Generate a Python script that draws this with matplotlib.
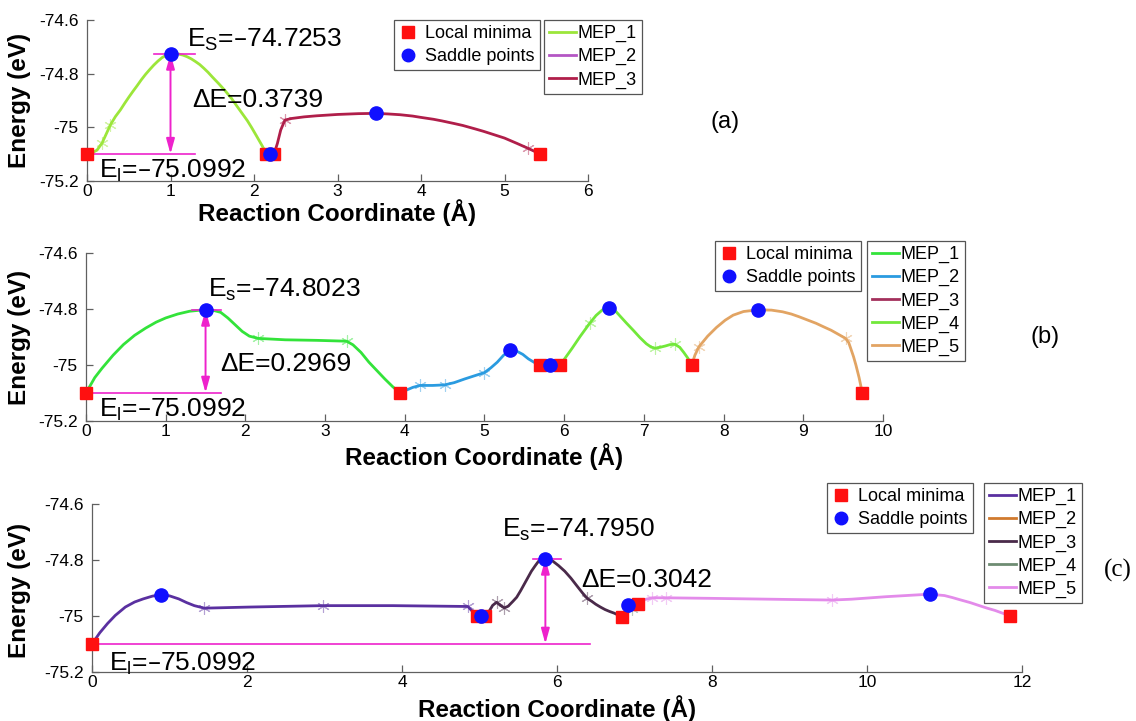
import matplotlib
matplotlib.use("Agg")
import matplotlib.pyplot as plt
from matplotlib.lines import Line2D

plt.rcParams['font.family'] = ['Liberation Sans', 'DejaVu Sans']
plt.rcParams['mathtext.default'] = 'regular'

# ---------------- panel (a) ----------------
a1_x = [0.00, 0.06, 0.12, 0.18, 0.23, 0.28, 0.34, 0.40, 0.45, 0.50, 0.55, 0.60, 0.65,
        0.70, 0.75, 0.80, 0.85, 0.90, 0.95, 1.00, 1.05, 1.10, 1.15, 1.20, 1.25, 1.30,
        1.35, 1.40, 1.45, 1.50, 1.58, 1.65, 1.73, 1.80, 1.86, 1.92, 1.97, 2.03, 2.10, 2.15]
a1_e = [-75.0992, -75.095, -75.085, -75.059, -75.025, -74.991, -74.960, -74.935, -74.911,
        -74.888, -74.866, -74.845, -74.823, -74.803, -74.785, -74.768, -74.753, -74.740,
        -74.731, -74.7253, -74.725, -74.727, -74.731, -74.737, -74.745, -74.755, -74.766,
        -74.780, -74.795, -74.812, -74.838, -74.862, -74.892, -74.923, -74.949, -74.975,
        -75.000, -75.032, -75.070, -75.0992]
a2_x = [2.15, 2.19, 2.24]
a2_e = [-75.0992, -75.0992, -75.0992]
a3_x = [2.24, 2.28, 2.32, 2.37, 2.45, 2.60, 2.75, 3.00, 3.25, 3.46, 3.60, 3.75, 3.90,
        4.00, 4.15, 4.25, 4.40, 4.50, 4.65, 4.75, 4.90, 5.00, 5.15, 5.28, 5.35, 5.42]
a3_e = [-75.0992, -75.060, -75.010, -74.973, -74.967, -74.961, -74.957, -74.952, -74.949,
        -74.948, -74.950, -74.953, -74.958, -74.963, -74.970, -74.976, -74.986, -74.993,
        -75.006, -75.015, -75.030, -75.040, -75.060, -75.078, -75.088, -75.0992]
a_img_x = [[0.18, 0.28], [], [2.37, 5.28]]
a_img_e = [[-75.059, -74.991], [], [-74.973, -75.078]]
a_min_x = [0.0, 2.14, 2.24, 5.42]
a_min_e = [-75.0992, -75.0992, -75.0992, -75.0992]
a_sad_x = [1.0, 2.19, 3.46]
a_sad_e = [-74.7253, -75.0992, -74.948]
a_colors = ['#9CE63A', '#B456C4', '#B01E4A']
a_names = ['MEP_1', 'MEP_2', 'MEP_3']

# ---------------- panel (b) ----------------
b1_x = [0.00, 0.05, 0.11, 0.20, 0.34, 0.47, 0.61, 0.75, 0.88, 1.00, 1.15, 1.30, 1.50,
        1.60, 1.69, 1.78, 1.87, 1.96, 2.05, 2.16, 2.50, 2.90, 3.27, 3.35, 3.45, 3.55,
        3.65, 3.75, 3.85, 3.94]
b1_e = [-75.0992, -75.075, -75.045, -75.012, -74.965, -74.927, -74.894, -74.868, -74.847,
        -74.832, -74.818, -74.808, -74.8023, -74.805, -74.812, -74.832, -74.856, -74.880,
        -74.897, -74.905, -74.910, -74.912, -74.915, -74.928, -74.955, -74.990, -75.020,
        -75.050, -75.078, -75.0992]
b2_x = [3.94, 4.00, 4.10, 4.19, 4.35, 4.50, 4.62, 4.75, 4.88, 5.00, 5.08, 5.16, 5.24,
        5.32, 5.40, 5.48, 5.55, 5.62, 5.70]
b2_e = [-75.0992, -75.092, -75.080, -75.073, -75.073, -75.071, -75.063, -75.050, -75.038,
        -75.027, -75.010, -74.990, -74.965, -74.948, -74.950, -74.962, -74.978, -74.990,
        -75.0]
b3_x = [5.70, 5.82, 5.95]
b3_e = [-75.0, -75.0, -75.0]
b4_x = [5.95, 6.03, 6.10, 6.20, 6.32, 6.40, 6.48, 6.56, 6.63, 6.70, 6.78, 6.87, 6.95,
        7.03, 7.09, 7.14, 7.20, 7.27, 7.33, 7.39, 7.45, 7.50, 7.55, 7.60]
b4_e = [-75.0, -74.968, -74.940, -74.898, -74.851, -74.823, -74.803, -74.795, -74.803,
        -74.825, -74.850, -74.877, -74.902, -74.924, -74.936, -74.940, -74.937, -74.932,
        -74.927, -74.926, -74.937, -74.955, -74.975, -75.0]
b5_x = [7.60, 7.64, 7.69, 7.80, 7.91, 8.02, 8.12, 8.25, 8.43, 8.60, 8.74, 8.85, 8.95,
        9.05, 9.16, 9.25, 9.35, 9.45, 9.53, 9.57, 9.60, 9.63, 9.66, 9.70, 9.74]
b5_e = [-75.0, -74.965, -74.935, -74.897, -74.866, -74.840, -74.822, -74.809, -74.803,
        -74.804, -74.810, -74.818, -74.828, -74.839, -74.851, -74.863, -74.876, -74.892,
        -74.905, -74.920, -74.945, -74.970, -75.000, -75.045, -75.0992]
b_img_x = [[2.16, 3.27], [4.19, 4.50, 5.00], [], [6.32, 7.14, 7.39], [7.69, 9.53]]
b_img_e = [[-74.905, -74.915], [-75.073, -75.071, -75.027], [], [-74.851, -74.940, -74.926],
           [-74.935, -74.905]]
b_min_x = [0.0, 3.94, 5.70, 5.95, 7.60, 9.74]
b_min_e = [-75.0992, -75.0992, -75.0, -75.0, -75.0, -75.0992]
b_sad_x = [1.50, 5.32, 5.82, 6.56, 8.43]
b_sad_e = [-74.8023, -74.948, -75.0, -74.795, -74.803]
b_colors = ['#33E33A', '#2A9BE0', '#A3305C', '#72E83A', '#E2A463']
b_names = ['MEP_1', 'MEP_2', 'MEP_3', 'MEP_4', 'MEP_5']

# ---------------- panel (c) ----------------
c1_x = [0.00, 0.05, 0.10, 0.20, 0.30, 0.43, 0.55, 0.66, 0.78, 0.89, 1.00, 1.12, 1.22,
        1.32, 1.45, 2.04, 2.98, 3.88, 4.85, 4.93, 4.98]
c1_e = [-75.0992, -75.080, -75.060, -75.027, -74.998, -74.968, -74.950, -74.939, -74.929,
        -74.924, -74.928, -74.939, -74.952, -74.963, -74.972, -74.968, -74.963, -74.963,
        -74.966, -74.990, -75.0]
c2_x = [4.98, 5.02, 5.07]
c2_e = [-75.0, -75.0, -75.0]
c3_x = [5.07, 5.12, 5.17, 5.22, 5.27, 5.32, 5.37, 5.43, 5.48, 5.53, 5.58, 5.63, 5.67,
        5.72, 5.76, 5.80, 5.84, 5.90, 5.95, 6.02, 6.10, 6.18, 6.27, 6.33, 6.39, 6.45,
        6.50, 6.56, 6.62, 6.68, 6.74, 6.79, 6.84]
c3_e = [-75.0, -74.985, -74.962, -74.951, -74.962, -74.971, -74.965, -74.948, -74.933,
        -74.910, -74.885, -74.860, -74.840, -74.820, -74.805, -74.797, -74.795, -74.798,
        -74.805, -74.820, -74.840, -74.865, -74.897, -74.918, -74.937, -74.948, -74.958,
        -74.968, -74.977, -74.984, -74.990, -74.997, -75.003]
c4_x = [6.84, 6.90, 6.97, 7.04]
c4_e = [-75.003, -74.990, -74.975, -74.958]
c5_x = [7.04, 7.12, 7.23, 7.40, 8.00, 8.50, 9.00, 9.55, 9.80, 10.00, 10.25, 10.50, 10.81,
        11.00, 11.10, 11.20, 11.33, 11.45, 11.55, 11.65, 11.75, 11.85]
c5_e = [-74.958, -74.942, -74.935, -74.935, -74.937, -74.939, -74.941, -74.943, -74.940,
        -74.936, -74.931, -74.927, -74.922, -74.927, -74.934, -74.942, -74.952, -74.963,
        -74.972, -74.980, -74.990, -75.0]
c_img_x = [[1.45, 2.98, 4.85], [], [5.22, 5.32, 6.39], [6.97], [7.23, 7.40, 9.55]]
c_img_e = [[-74.972, -74.963, -74.966], [], [-74.951, -74.971, -74.937], [-74.975],
           [-74.935, -74.935, -74.943]]
c_min_x = [0.0, 4.97, 5.07, 6.84, 7.04, 11.85]
c_min_e = [-75.0992, -75.0, -75.0, -75.003, -74.958, -75.0]
c_sad_x = [0.89, 5.02, 5.84, 6.92, 10.81]
c_sad_e = [-74.924, -75.0, -74.795, -74.960, -74.922]
c_colors = ['#5A30A0', '#D07A2E', '#4A2A4A', '#6E8C72', '#E38BEA']
c_names = ['MEP_1', 'MEP_2', 'MEP_3', 'MEP_4', 'MEP_5']

# barrier annotations: (E_s, E_l, arrow x, E_l line end, E_s line start, E_s line end)
a_barrier = (-74.7253, -75.0992, 1.00, 1.29, 0.80, 1.29)
b_barrier = (-74.8023, -75.0992, 1.50, 1.69, 1.33, 1.69)
c_barrier = (-74.7950, -75.0992, 5.85, 6.42, 5.69, 6.05)

y_ticks = [-75.2, -75.0, -74.8, -74.6]
y_ticklabels = ['-75.2', '-75', '-74.8', '-74.6']

W, H = 1136, 721
fig = plt.figure(figsize=(W / 100, H / 100), dpi=100)


def px_axes(left, top, right, bottom):
    return fig.add_axes([left / W, 1 - bottom / H, (right - left) / W, (bottom - top) / H])


def fpos(x, y):
    return (x / W, 1 - y / H)


MAG = '#EE22CC'
AXC = '#606060'


def draw_panel(ax, curves, img_x, img_e, colors, names, min_x, min_e, sad_x, sad_e,
               xmax, xticks, barrier, sub, texts, leg1_xy, leg2_xy, ylab_xy, xlab_xy):
    for (x, e), ix, ie, col in zip(curves, img_x, img_e, colors):
        ax.plot(x, e, color=col, lw=2.0, solid_capstyle='round', solid_joinstyle='round',
                zorder=3)
        if ix:
            ax.plot(ix, ie, ls='none', marker=(6, 2, 0), ms=9, mew=0.8, color=col,
                    alpha=0.45, zorder=3)
    es, el, ax_x, el_end, es0, es1 = barrier
    ax.plot([0, el_end], [el, el], color=MAG, lw=1.2, zorder=4)
    ax.plot([es0, es1], [es, es], color=MAG, lw=1.2, zorder=4)
    ax.annotate('', xy=(ax_x, es), xytext=(ax_x, el),
                arrowprops=dict(arrowstyle='<|-|>,head_length=0.9,head_width=0.25',
                                color=MAG, lw=1.4, shrinkA=0, shrinkB=0), zorder=4)
    ax.plot(min_x, min_e, ls='none', marker='s', ms=8.5, color='#FF1010', mec='#FF1010',
            zorder=5, clip_on=False)
    ax.plot(sad_x, sad_e, ls='none', marker='o', ms=9.5, color='#1010FF', mec='#1010FF',
            zorder=6, clip_on=False)

    (tsx, tsy), (tdx, tdy), (tlx, tly) = texts
    fs = 19
    ax.text(tsx, tsy, 'E$_{%s}$=\u201374.%s' % (sub, f'{-es - 74:.4f}'[2:]),
            fontsize=fs, va='center', ha='left', zorder=7)
    ax.text(tdx, tdy, '\u0394E=%.4f' % (es - el), fontsize=fs, va='center', ha='left',
            zorder=7)
    ax.text(tlx, tly, 'E$_{l}$=\u201375.%s' % f'{-el - 75:.4f}'[2:], fontsize=fs,
            va='center', ha='left', zorder=7)

    ax.set_xlim(0, xmax)
    ax.set_ylim(-75.2, -74.6)
    ax.set_xticks(xticks)
    ax.set_xticklabels([str(t) for t in xticks])
    ax.set_yticks(y_ticks)
    ax.set_yticklabels(y_ticklabels)
    for s in ('top', 'right'):
        ax.spines[s].set_visible(False)
    for s in ('left', 'bottom'):
        ax.spines[s].set_color(AXC)
        ax.spines[s].set_linewidth(0.9)
    ax.tick_params(direction='in', length=5, width=0.9, color=AXC, labelsize=12.5,
                   labelcolor='black')
    ax.tick_params(axis='y', pad=6)
    ax.tick_params(axis='x', pad=2)
    ax.patch.set_alpha(0)

    ax.set_ylabel('Energy (eV)', fontsize=17.5, fontweight='bold')
    ax.yaxis.set_label_coords(*fpos(*ylab_xy), transform=fig.transFigure)
    ax.yaxis.label.set_va('center')
    ax.set_xlabel('Reaction Coordinate (\u00c5)', fontsize=17.5, fontweight='bold')
    ax.xaxis.set_label_coords(*fpos(*xlab_xy), transform=fig.transFigure)
    ax.xaxis.label.set_va('center')

    h1 = [Line2D([], [], ls='none', marker='s', ms=8, color='#FF1010'),
          Line2D([], [], ls='none', marker='o', ms=9, color='#1010FF')]
    leg1 = fig.legend(h1, ['Local minima', 'Saddle points'], loc='upper left',
                      bbox_to_anchor=fpos(*leg1_xy), fontsize=13, frameon=True,
                      fancybox=False, edgecolor='#555555', framealpha=1,
                      borderpad=0.28, labelspacing=0.33, handlelength=1.0,
                      handletextpad=0.45, borderaxespad=0)
    leg1.get_frame().set_linewidth(0.9)
    h2 = [Line2D([], [], color=c, lw=2) for c in colors]
    leg2 = fig.legend(h2, names, loc='upper left', bbox_to_anchor=fpos(*leg2_xy),
                      fontsize=13, frameon=True, fancybox=False, edgecolor='#555555',
                      framealpha=1, borderpad=0.28, labelspacing=0.33, handlelength=1.5,
                      handletextpad=0.1, borderaxespad=0)
    leg2.get_frame().set_linewidth(0.9)


ax_a = px_axes(87, 20, 588, 181)
draw_panel(ax_a, [(a1_x, a1_e), (a2_x, a2_e), (a3_x, a3_e)], a_img_x, a_img_e, a_colors,
           a_names, a_min_x, a_min_e, a_sad_x, a_sad_e, 6, list(range(0, 7)), a_barrier,
           'S', [(1.20, -74.675), (1.26, -74.899), (0.14, -75.162)],
           (394, 20), (544, 20), (20, 100), (337, 213))

ax_b = px_axes(86, 253, 883, 421)
draw_panel(ax_b, [(b1_x, b1_e), (b2_x, b2_e), (b3_x, b3_e), (b4_x, b4_e), (b5_x, b5_e)],
           b_img_x, b_img_e, b_colors, b_names, b_min_x, b_min_e, b_sad_x, b_sad_e,
           10, list(range(0, 11)), b_barrier, 's',
           [(1.53, -74.732), (1.69, -74.996), (0.16, -75.160)],
           (715, 241), (867, 241), (20, 337), (484, 457))

ax_c = px_axes(92, 504, 1022, 672)
draw_panel(ax_c, [(c1_x, c1_e), (c2_x, c2_e), (c3_x, c3_e), (c4_x, c4_e), (c5_x, c5_e)],
           c_img_x, c_img_e, c_colors, c_names, c_min_x, c_min_e, c_sad_x, c_sad_e,
           12, list(range(0, 13, 2)), c_barrier, 's',
           [(5.29, -74.693), (6.31, -74.871), (0.22, -75.170)],
           (827, 483), (984, 483), (20, 590), (557, 709))

fig.text(*fpos(725, 122), '(a)', fontsize=17, ha='center', va='center')
fig.text(*fpos(1045, 337), '(b)', fontsize=17, ha='center', va='center')
fig.text(*fpos(1118, 570), '(c)', fontsize=18, ha='center', va='center',
         family='Liberation Serif')

fig.savefig('out.png', dpi=100)
